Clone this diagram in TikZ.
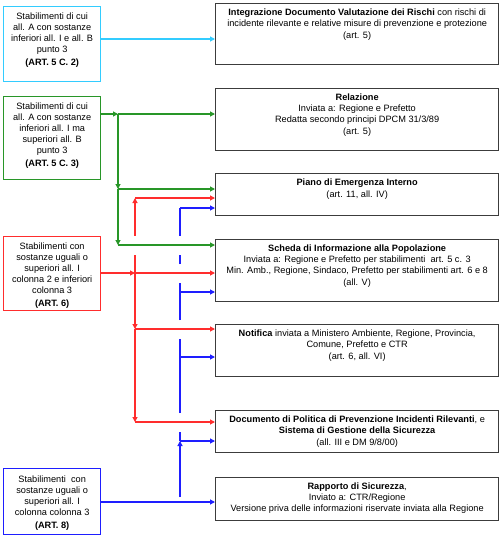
\documentclass[tikz,border=0pt]{standalone}
\usepackage{fontspec}
\setmainfont{Liberation Sans}
\usetikzlibrary{arrows.meta}
\definecolor{cyanc}{RGB}{51,204,255}
\definecolor{greenc}{RGB}{40,150,40}
\definecolor{redc}{RGB}{255,45,45}
\definecolor{bluec}{RGB}{30,30,255}
\definecolor{boxc}{RGB}{60,60,60}
\begin{document}
\begin{tikzpicture}[x=1pt,y=-1pt,
  box/.style={draw, line width=1.3pt, inner sep=0pt, anchor=north west},
  rbox/.style={box, draw=boxc, minimum width=283pt},
  lbox/.style={box, minimum width=97pt},
  txt/.style={font=\fontsize{9.2}{11}\selectfont, align=center, inner sep=0pt, anchor=north},
  conn/.style={line width=1.1pt, -{Triangle[length=5pt,width=5pt]}},
  seg/.style={line width=1.1pt}]
\useasboundingbox (0,0) rectangle (500,536);

% left boxes
\node[lbox, draw=cyanc, minimum height=75pt] (lc) at (3,6) {};
\node[txt] (lct) at ([yshift=-6.5pt]lc.north) {Stabilimenti di cui\\all. A con sostanze\\inferiori all. I e all. B\\punto 3\\[2.5pt]\textbf{(ART. 5 C. 2)}};
\node[lbox, draw=greenc, minimum height=83pt] (lg) at (3,96) {};
\node[txt] (lgt) at ([yshift=-6.5pt]lg.north) {Stabilimenti di cui\\all. A con sostanze\\inferiori all. I ma\\superiori all. B\\punto 3\\[2.5pt]\textbf{(ART. 5 C. 3)}};
\node[lbox, draw=redc, minimum height=74pt] (lr) at (3,236) {};
\node[txt] (lrt) at ([yshift=-6.5pt]lr.north) {Stabilimenti con\\sostanze uguali o\\superiori all. I\\colonna 2 e inferiori\\colonna 3\\[2.5pt]\textbf{(ART. 6)}};
\node[lbox, draw=bluec, minimum height=66pt] (lb) at (3,468) {};
\node[txt] (lbt) at ([yshift=-8pt]lb.north) {Stabilimenti\ \ con\\sostanze uguali o\\superiori all. I\\colonna colonna 3\\[2pt]\textbf{(ART. 8)}};

% right boxes
\node[rbox, minimum height=61pt] (r1) at (215,3) {};
\node[txt] (r1t) at ([yshift=-5.5pt]r1.north) {\textbf{Integrazione Documento Valutazione dei Rischi} con rischi di\\incidente rilevante e relative misure di prevenzione e protezione\\[1.5pt](art. 5)};
\node[rbox, minimum height=62pt] (r2) at (215,88) {};
\node[txt] (r2t) at ([yshift=-5.5pt]r2.north) {\textbf{Relazione}\\Inviata a: Regione e Prefetto\\Redatta secondo principi DPCM 31/3/89\\[1.5pt](art. 5)};
\node[rbox, minimum height=42pt] (r3) at (215,173) {};
\node[txt] (r3t) at ([yshift=-5.5pt]r3.north) {\textbf{Piano di Emergenza Interno}\\[1.5pt](art. 11, all. IV)};
\node[rbox, minimum height=62pt] (r4) at (215,239) {};
\node[txt] (r4t) at ([yshift=-5.5pt]r4.north) {\textbf{Scheda di Informazione alla Popolazione}\\Inviata a: Regione e Prefetto per stabilimenti\ \ art. 5 c. 3\\Min. Amb., Regione, Sindaco, Prefetto per stabilimenti art. 6 e 8\\[1.5pt](all. V)};
\node[rbox, minimum height=52pt] (r5) at (215,324) {};
\node[txt] (r5t) at ([yshift=-5.5pt]r5.north) {\textbf{Notifica} inviata a Ministero Ambiente, Regione, Provincia,\\Comune, Prefetto e CTR\\[1.5pt](art. 6, all. VI)};
\node[rbox, minimum height=42pt] (r6) at (215,410) {};
\node[txt] (r6t) at ([yshift=-5.5pt]r6.north) {\textbf{Documento di Politica di Prevenzione Incidenti Rilevanti}, e\\\textbf{Sistema di Gestione della Sicurezza}\\[1.5pt](all. III e DM 9/8/00)};
\node[rbox, minimum height=43pt] (r7) at (215,477) {};
\node[txt] (r7t) at ([yshift=-5.5pt]r7.north) {\textbf{Rapporto di Sicurezza},\\Inviato a: CTR/Regione\\Versione priva delle informazioni riservate inviata alla Regione};

% junction coordinates
\coordinate (cy) at (100,39);
\coordinate (g0) at (118,114);
\coordinate (g1) at (118,189);
\coordinate (g2) at (118,245);
\coordinate (rr0) at (135,273);
\coordinate (rr1) at (135,198);
\coordinate (rr2) at (135,329);
\coordinate (rr3) at (135,422);
\coordinate (b0) at (180,502);
\coordinate (b1) at (180,441);
\coordinate (b2) at (180,357);
\coordinate (b3) at (180,292);
\coordinate (b4) at (180,208);

% cyan
\draw[conn, cyanc] (lc.east |- cy) -- (r1.west |- cy);

% green
\draw[conn, greenc] (lg.east |- g0) -- (g0);
\draw[conn, greenc] (g0) -- (r2.west |- g0);
\draw[conn, greenc] (g0) -- (g1);
\draw[conn, greenc] (g1) -- (g2);
\draw[conn, greenc] (g1) -- (r3.west |- g1);
\draw[conn, greenc] (g2) -- (r4.west |- g2);

% red
\draw[conn, redc] (lr.east |- rr0) -- (rr0);
\draw[conn, redc] (rr0) -- (r4.west |- rr0);
\draw[seg, redc] (rr0) -- (135,255);
\draw[conn, redc] (135,235.5) -- (rr1);
\draw[conn, redc] (rr1) -- (r3.west |- rr1);
\draw[conn, redc] (rr0) -- (rr2);
\draw[conn, redc] (rr2) -- (r5.west |- rr2);
\draw[conn, redc] (rr2) -- (rr3);
\draw[conn, redc] (rr3) -- (r6.west |- rr3);

% blue
\draw[conn, bluec] (lb.east |- b0) -- (r7.west |- b0);
\draw[conn, bluec] (180,497) -- (b1);
\draw[conn, bluec] (b1) -- (r6.west |- b1);
\draw[seg, bluec] (b1) -- (180,432);
\draw[seg, bluec] (180,413) -- (b2);
\draw[conn, bluec] (b2) -- (r5.west |- b2);
\draw[seg, bluec] (b2) -- (180,339);
\draw[seg, bluec] (180,320) -- (b3);
\draw[conn, bluec] (b3) -- (r4.west |- b3);
\draw[seg, bluec] (b3) -- (180,283);
\draw[seg, bluec] (180,264) -- (180,255);
\draw[seg, bluec] (180,235.5) -- (b4);
\draw[conn, bluec] (b4) -- (r3.west |- b4);
\end{tikzpicture}
\end{document}
